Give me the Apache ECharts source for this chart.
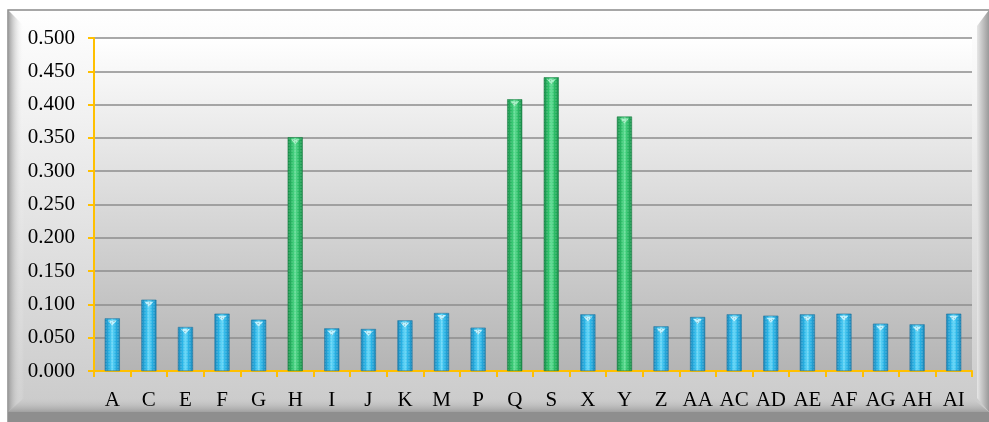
<!DOCTYPE html>
<html>
<head>
<meta charset="utf-8">
<script src="https://cdn.jsdelivr.net/npm/echarts@6/dist/echarts.min.js"></script>
<style>
  html, body { margin: 0; padding: 0; background: #ffffff; }
  #chart { width: 989px; height: 422px; }
</style>
</head>
<body>
<div id="chart"></div>
<script>
// Categories along the x axis
const categories = ['A','C','E','F','G','H','I','J','K','M','P','Q','S','X','Y','Z','AA','AC','AD','AE','AF','AG','AH','AI'];
// Measured values per category
const values = [0.079,0.107,0.066,0.086,0.077,0.351,0.064,0.063,0.076,0.087,0.065,0.408,0.441,0.085,0.382,0.067,0.081,0.085,0.083,0.085,0.086,0.071,0.070,0.086];
// Categories drawn in green
const greenCategories = ['H','Q','S','Y'];
// Value axis ticks
const yTicks = { min: 0, max: 0.5, interval: 0.05 };

const chart = echarts.init(document.getElementById('chart'), null, { renderer: 'canvas' });

function cylinder(edge, mid, light) {
  return new echarts.graphic.LinearGradient(0, 0, 1, 0, [
    { offset: 0, color: edge },
    { offset: 0.3, color: mid },
    { offset: 0.5, color: light },
    { offset: 0.7, color: mid },
    { offset: 1, color: edge }
  ]);
}
const blueFill = cylinder('#1b86b8', '#2ab4e6', '#66d8f8');
const greenFill = cylinder('#178a48', '#2cbf68', '#62de96');

const dotDecal = {
  symbol: 'circle',
  symbolSize: 0.8,
  dashArrayX: [2, 1],
  dashArrayY: [2, 1],
  color: 'rgba(255,255,255,0.25)'
};

const barData = categories.map((c, i) => ({
  value: values[i],
  itemStyle: {
    color: greenCategories.includes(c) ? greenFill : blueFill,
    borderColor: greenCategories.includes(c) ? 'rgba(20,120,60,0.6)' : 'rgba(22,110,155,0.6)',
    borderWidth: 0.5,
    decal: dotDecal
  }
}));

const capData = categories.map((c, i) => ({
  value: values[i],
  itemStyle: { color: greenCategories.includes(c) ? '#a6f2c6' : '#bff2ff' }
}));

const gold = '#FFC000';
const labelFont = { fontFamily: '"Liberation Serif", "Times New Roman", serif', fontSize: 21, color: '#000000' };

chart.setOption({
  animation: false,
  aria: { enabled: true, decal: { show: true } },
  graphic: [
    // panel body
    { type: 'rect', z: -10, shape: { x: 8, y: 10, width: 990, height: 420 },
      style: { fill: new echarts.graphic.LinearGradient(0, 0, 0, 1, [
        { offset: 0, color: '#ffffff' }, { offset: 1, color: '#c8c8c8' }]),
        stroke: '#8a8a8a', lineWidth: 1.5 } },
    // left bevel
    { type: 'polygon', z: -9, shape: { points: [[8,10],[24,26],[24,398],[8,412]] },
      style: { fill: new echarts.graphic.LinearGradient(0, 0, 1, 0, [
        { offset: 0, color: '#9a9a9a' }, { offset: 1, color: 'rgba(255,255,255,0)' }]) } },
    // bottom bevel
    { type: 'polygon', z: -9, shape: { points: [[8,412],[24,398],[972,398],[989,412]] },
      style: { fill: new echarts.graphic.LinearGradient(0, 0, 0, 1, [
        { offset: 0, color: 'rgba(200,200,200,0)' }, { offset: 1, color: '#a0a0a0' }]) } },
    { type: 'rect', z: -9, shape: { x: 8, y: 412, width: 990, height: 12 },
      style: { fill: '#8e8e8e' } },
    // right bevel
    { type: 'polygon', z: -9, shape: { points: [[989,10],[977,26],[977,398],[989,412]] },
      style: { fill: new echarts.graphic.LinearGradient(0, 0, 1, 0, [
        { offset: 0, color: '#e6e6e6' }, { offset: 1, color: '#9a9a9a' }]) } }
  ],
  grid: {
    left: 94, right: 17, top: 38, bottom: 51,
    show: true,
    borderWidth: 0,
    backgroundColor: new echarts.graphic.LinearGradient(0, 0, 0, 1, [
      { offset: 0, color: '#ffffff' }, { offset: 1, color: '#b4b4b4' }])
  },
  xAxis: {
    type: 'category',
    data: categories,
    axisLine: { show: true, lineStyle: { color: gold, width: 2 } },
    axisTick: { show: true, length: 6, lineStyle: { color: gold, width: 2 } },
    axisLabel: Object.assign({ interval: 0, margin: 19 }, labelFont),
    splitLine: { show: false }
  },
  yAxis: {
    type: 'value',
    min: yTicks.min, max: yTicks.max, interval: yTicks.interval,
    axisLine: { show: true, lineStyle: { color: gold, width: 2 } },
    axisTick: { show: true, length: 6, lineStyle: { color: gold, width: 2 } },
    axisLabel: Object.assign({ margin: 19, formatter: v => v.toFixed(3) }, labelFont),
    splitLine: { show: true, lineStyle: { color: '#8c8c8c', width: 1.5 } }
  },
  series: [
    {
      type: 'bar',
      data: barData,
      barWidth: 15,
      z: 2
    },
    {
      type: 'pictorialBar',
      data: capData,
      symbol: 'triangle',
      symbolRotate: 180,
      symbolSize: [9, 5],
      symbolPosition: 'end',
      symbolOffset: [0, 2],
      z: 3,
      silent: true
    }
  ]
});
</script>
</body>
</html>
